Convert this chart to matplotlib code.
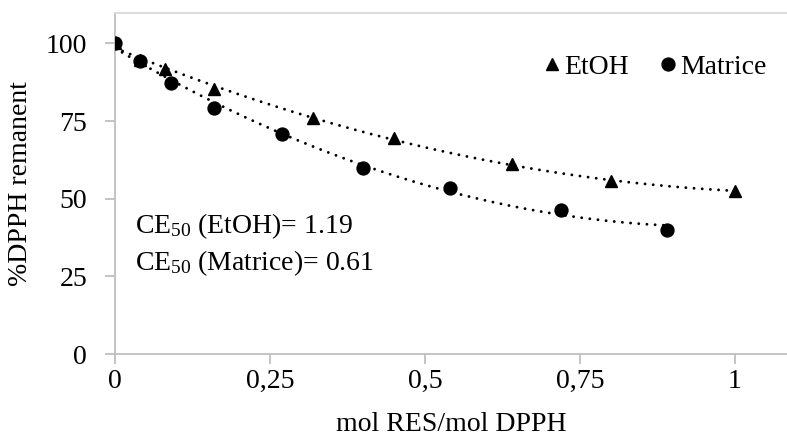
import numpy as np
import matplotlib
matplotlib.use('Agg')
from matplotlib import pyplot as plt

# mol RES / mol DPPH vs. remaining DPPH (%)
etoh_x = [0, 0.04, 0.08, 0.16, 0.32, 0.45, 0.64, 0.80, 1.00]
etoh_y = [100, 94.8, 91.6, 85.3, 76.0, 69.7, 61.1, 55.7, 52.5]

matrice_x = [0, 0.04, 0.09, 0.16, 0.27, 0.40, 0.54, 0.72, 0.89]
matrice_y = [100, 94.3, 87.3, 79.2, 70.8, 60.0, 53.5, 46.5, 40.1]

x_ticks = [0, 0.25, 0.5, 0.75, 1]
x_tick_labels = ['0', '0,25', '0,5', '0,75', '1']
y_ticks = [0, 25, 50, 75, 100]

ce50_labels = [r'CE$\mathregular{_{50}}$ (EtOH)= 1.19',
               r'CE$\mathregular{_{50}}$ (Matrice)= 0.61']

plt.rcParams['font.family'] = ['Liberation Serif', 'DejaVu Serif']
plt.rcParams['mathtext.fontset'] = 'custom'
plt.rcParams['mathtext.rm'] = 'Liberation Serif'

axis_grey = '#bfbfbf'
big = 20

fig = plt.figure(figsize=(7.87, 4.41), dpi=100)
ax = fig.add_axes([0.1461, 0.197, 0.8539, 0.773])

# quadratic trend lines, dotted
dots = dict(color='black', lw=2.1, linestyle=(0, (0.01, 2.8)),
            dash_capstyle='round')
for xs, ys in [(etoh_x, etoh_y), (matrice_x, matrice_y)]:
    coef = np.polyfit(xs, ys, 2)
    xx = np.linspace(min(xs), max(xs), 200)
    ax.plot(xx, np.polyval(coef, xx), zorder=2, **dots)

ax.plot(etoh_x, etoh_y, '^', color='black', ms=9, ls='none',
        label='EtOH', zorder=3)
ax.plot(matrice_x, matrice_y, 'o', color='black', ms=9.3, ls='none',
        label='Matrice', zorder=3)

ax.set_xlim(0, 1.084)
ax.set_ylim(0, 109.7)
ax.set_xticks(x_ticks)
ax.set_xticklabels(x_tick_labels)
ax.set_yticks(y_ticks)

ax.tick_params(axis='both', labelsize=big, colors=axis_grey,
               labelcolor='black', length=7, width=1.3, direction='out')
ax.tick_params(axis='x', pad=4)
ax.tick_params(axis='y', pad=13)

for side in ['left', 'bottom', 'top']:
    ax.spines[side].set_color(axis_grey)
    ax.spines[side].set_linewidth(1.3)
ax.spines['top'].set_color('#d9d9d9')
ax.spines['right'].set_visible(False)

ax.set_xlabel('mol RES/mol DPPH', fontsize=big, labelpad=13)
ax.set_ylabel('%DPPH remanent', fontsize=big, labelpad=9)

ax.legend(loc='center right', ncol=2, frameon=False, fontsize=big,
          handlelength=0.5, handletextpad=0.2, columnspacing=1.15,
          borderpad=0, borderaxespad=0, bbox_to_anchor=(0.97, 0.842))

ax.text(0.03, 0.355, ce50_labels[0], transform=ax.transAxes, fontsize=big,
        va='baseline')
ax.text(0.03, 0.246, ce50_labels[1], transform=ax.transAxes, fontsize=big,
        va='baseline')

fig.savefig('out.png', dpi=100)
